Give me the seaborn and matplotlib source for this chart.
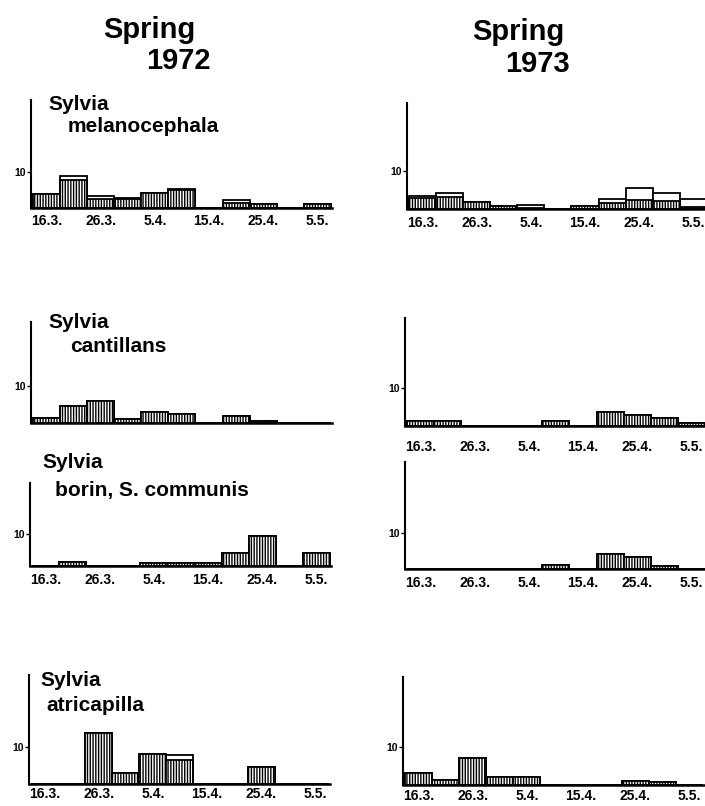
import pandas as pd
import matplotlib
matplotlib.use('Agg')
import matplotlib.pyplot as plt
from matplotlib import font_manager
import seaborn as sns

# pentads (5-day periods) from 16 March to 9 May
pentads = ["16.3.", "21.3.", "26.3.", "31.3.", "5.4.", "10.4.",
           "15.4.", "20.4.", "25.4.", "30.4.", "5.5."]
tick_labels = ["16.3.", "26.3.", "5.4.", "15.4.", "25.4.", "5.5."]

# bar heights (total = whole bar, hatched = lower hatched part)
mel72_total = [4.0, 8.8, 3.4, 2.9, 4.1, 5.2, 0, 2.1, 1.1, 0, 1.1]
mel72_hatched = [4.0, 7.7, 2.6, 2.4, 4.1, 4.9, 0, 1.3, 1.1, 0, 1.1]
mel73_total = [3.3, 4.1, 1.8, 0.9, 1.1, 0, 0.9, 2.6, 5.4, 4.3, 2.7]
mel73_hatched = [3.0, 3.2, 1.8, 0.9, 0.3, 0, 0.9, 1.7, 2.4, 2.0, 0.5]
can72_total = [1.3, 4.6, 5.8, 1.2, 2.9, 2.5, 0, 1.8, 0.6, 0, 0]
can72_hatched = [1.3, 4.6, 5.8, 1.2, 2.9, 2.5, 0, 1.8, 0.6, 0, 0]
can73_total = [1.4, 1.4, 0, 0, 0, 1.3, 0, 3.8, 2.9, 2.0, 0.9]
can73_hatched = [1.4, 1.4, 0, 0, 0, 1.3, 0, 3.8, 2.9, 2.0, 0.9]
bor72_total = [0, 1.4, 0, 0, 1.0, 1.0, 1.0, 4.0, 9.4, 0, 4.0]
bor72_hatched = [0, 1.4, 0, 0, 1.0, 1.0, 1.0, 4.0, 9.4, 0, 4.0]
bor73_total = [0, 0, 0, 0, 0, 1.2, 0, 4.1, 3.2, 0.9, 0]
bor73_hatched = [0, 0, 0, 0, 0, 1.2, 0, 4.1, 3.2, 0.9, 0]
atr72_total = [0, 0, 13.8, 3.0, 8.0, 7.8, 0, 0, 4.6, 0, 0]
atr72_hatched = [0, 0, 13.8, 3.0, 8.0, 6.4, 0, 0, 4.6, 0, 0]
atr73_total = [3.3, 1.3, 7.1, 2.2, 2.2, 0, 0, 0, 1.1, 0.9, 0]
atr73_hatched = [3.3, 1.3, 7.1, 2.2, 2.2, 0, 0, 0, 1.1, 0.9, 0]

species = [("Sylvia", "melanocephala"), ("Sylvia", "cantillans"),
           ("Sylvia", "borin, S. communis"), ("Sylvia", "atricapilla")]


def pick(fams):
    for f in fams:
        try:
            font_manager.findfont(f, fallback_to_default=False)
            return f
        except Exception:
            pass
    return "DejaVu Sans"


sns.set_style("ticks")
narrow = pick(["Liberation Sans Narrow", "Liberation Sans"])
wide = pick(["Liberation Sans", "DejaVu Sans"])
plt.rcParams["font.family"] = [wide, "DejaVu Sans"]
plt.rcParams["hatch.linewidth"] = 1.0
for k in ["text.color", "axes.edgecolor", "xtick.color", "ytick.color", "axes.labelcolor"]:
    plt.rcParams[k] = "black"

W, H = 705, 806
fig = plt.figure(figsize=(W / 100, H / 100), dpi=100)

# layout: left px, baseline px, px per count, top px, label pad, show ticks
panels = [
    (mel72_total, mel72_hatched, 31, 208, 3.6, 100, 4, True),
    (mel73_total, mel73_hatched, 407, 209, 3.8, 103, 5, True),
    (can72_total, can72_hatched, 31, 423, 3.73, 322, 5, False),
    (can73_total, can73_hatched, 405, 426, 3.77, 318, 10, True),
    (bor72_total, bor72_hatched, 30, 566, 3.2, 483, 5, True),
    (bor73_total, bor73_hatched, 405, 569, 3.6, 462, 5, True),
    (atr72_total, atr72_hatched, 29, 784, 3.73, 675, 2, True),
    (atr73_total, atr73_hatched, 403, 785, 3.77, 677, 3, True),
]
pw = 27.1
x0, x1 = -0.57, 10.55

for total, hatched, left, base, unit, top, pad, show in panels:
    ax = fig.add_axes([left / W, 1 - base / H, (x1 - x0) * pw / W, (base - top) / H])
    df = pd.DataFrame({"pentad": pentads, "total": total, "hatched": hatched})
    sns.barplot(data=df, x="pentad", y="total", order=pentads, color="white",
                saturation=1, edgecolor="black", linewidth=1.3, width=1.0,
                errorbar=None, ax=ax)
    n = len(ax.patches)
    sns.barplot(data=df, x="pentad", y="hatched", order=pentads, color="white",
                saturation=1, edgecolor="black", linewidth=1.3, width=1.0,
                errorbar=None, ax=ax)
    for p in ax.patches[n:]:
        p.set_hatch("||||||")
    ax.set_xlim(x0, x1)
    ax.set_ylim(0, (base - top) / unit)
    ax.set_xlabel("")
    ax.set_ylabel("")
    ax.set_yticks([10])
    ax.set_yticklabels(["10"], fontsize=7.5, family=narrow, fontweight="bold")
    ax.tick_params(axis="y", length=3, width=1, pad=1)
    ax.set_xticks(range(0, len(pentads), 2))
    if show:
        ax.set_xticklabels(tick_labels, fontsize=10, family=narrow, fontweight="bold")
    else:
        ax.set_xticklabels([])
    ax.tick_params(axis="x", length=0, pad=pad)
    for s in ["top", "right"]:
        ax.spines[s].set_visible(False)
    ax.spines["left"].set_linewidth(1.5)
    ax.spines["bottom"].set_linewidth(1.8)
    ax.set_facecolor("none")

# column titles
for txt, cx, ty in [("Spring", 149, 16), ("1972", 178, 47), ("Spring", 518, 18), ("1973", 537, 50)]:
    fig.text(cx / W, 1 - ty / H, txt, ha="center", va="top", fontsize=21,
             family=narrow, fontweight="bold")

# species labels
label_pos = [((48, 95), (68, 117)), ((48, 313), (70, 337)),
             ((42, 453), (55, 481)), ((40, 671), (46, 696))]
for (genus, name), ((gx, gy), (nx, ny)) in zip(species, label_pos):
    fig.text(gx / W, 1 - gy / H, genus, ha="left", va="top", fontsize=15, fontweight="bold")
    fig.text(nx / W, 1 - ny / H, name, ha="left", va="top", fontsize=15, fontweight="bold")

fig.savefig("out.png", dpi=100, facecolor="white")
